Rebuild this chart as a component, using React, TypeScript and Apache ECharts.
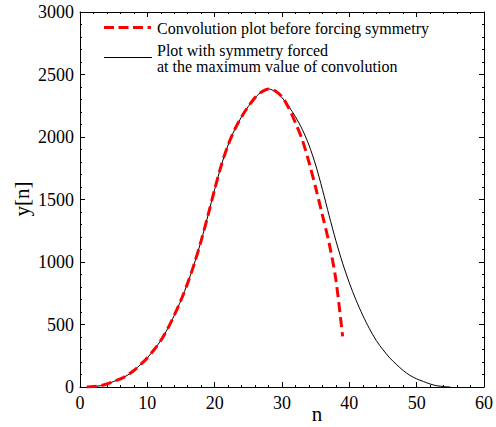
import React, { useEffect, useRef } from "react";
import * as echarts from "echarts";

const redN = [1,2,3,4,5,6,7,8,9,10,11,12,13,14,15,16,17,18,19,20,21,22,23,24,25,26,27,28,29,30,31,32,33,34,35,36,37,38,39];
const redY = [0,4,10,24,44,65,93,132,180,233,298,372,465,573,695,833,991,1171,1371,1581,1776,1936,2062,2162,2245,2315,2362,2385,2368,2322,2232,2113,1980,1800,1595,1375,1150,860,405];

const blackN = [1,2,3,4,5,6,7,8,9,10,11,12,13,14,15,16,17,18,19,20,21,22,23,24,25,26,27,28,29,30,31,32,33,34,35,36,37,38,39,40,41,42,43,44,45,46,47,48,49,50,51,52,53,54,55];
const blackY = [0,4,10,24,44,65,93,132,180,233,298,372,465,573,695,833,991,1171,1371,1581,1776,1936,2062,2162,2245,2315,2362,2385,2362,2315,2245,2162,2062,1936,1776,1581,1371,1171,991,833,695,573,465,372,298,233,180,132,93,65,44,24,10,4,0];

const xTicks = { min: 0, max: 60, interval: 10 };
const yTicks = { min: 0, max: 3000, interval: 500 };

const legendRed = "Convolution plot before forcing symmetry";
const legendBlack1 = "Plot with symmetry forced";
const legendBlack2 = "at the maximum value of convolution";
const xName = "n";
const yName = "y[n]";

const FONT = "Liberation Serif";

export default function App() {
  const ref = useRef<HTMLDivElement>(null);
  useEffect(() => {
    if (!ref.current) return;
    const chart = echarts.init(ref.current, undefined, { renderer: "svg" });
    const axisCommon = {
      axisLine: { show: true, onZero: false, lineStyle: { color: "#000", width: 1 } },
      axisTick: { show: true, inside: true, length: 5, lineStyle: { color: "#000", width: 1 } },
      minorTick: { show: true, splitNumber: 5, length: 2, lineStyle: { color: "#000", width: 1 } },
      splitLine: { show: false },
    };
    const fmt = (v: number) => String(v);
    chart.setOption({
      animation: false,
      backgroundColor: "#fff",
      textStyle: { fontFamily: FONT },
      grid: { left: 80, right: 7, top: 12, bottom: 40, containLabel: false },
      xAxis: [
        {
          type: "value",
          ...xTicks,
          position: "bottom",
          ...axisCommon,
          axisLabel: { color: "#000", fontFamily: FONT, fontSize: 18, margin: 7, formatter: fmt },
        },
        {
          type: "value",
          ...xTicks,
          position: "top",
          ...axisCommon,
          axisLabel: { show: false },
        },
      ],
      yAxis: [
        {
          type: "value",
          ...yTicks,
          position: "left",
          ...axisCommon,
          axisLabel: { color: "#000", fontFamily: FONT, fontSize: 18, margin: 6, formatter: fmt },
        },
        {
          type: "value",
          ...yTicks,
          position: "right",
          ...axisCommon,
          axisLabel: { show: false },
        },
      ],
      series: [
        {
          type: "line",
          name: legendBlack1,
          data: blackN.map((n, i) => [n, blackY[i]]),
          showSymbol: false,
          smooth: 0.3,
          lineStyle: { color: "#000", width: 1 },
          z: 2,
        },
        {
          type: "line",
          name: legendRed,
          data: redN.map((n, i) => [n, redY[i]]),
          showSymbol: false,
          smooth: 0.3,
          lineStyle: { color: "#ff0000", width: 3, type: [10, 5] },
          z: 3,
        },
      ],
      graphic: [
        {
          type: "line",
          shape: { x1: 104, y1: 27.5, x2: 151, y2: 27.5 },
          style: { stroke: "#ff0000", lineWidth: 3, lineDash: [10, 4.5] },
        },
        {
          type: "line",
          shape: { x1: 104, y1: 57.5, x2: 152, y2: 57.5 },
          style: { stroke: "#000", lineWidth: 1 },
        },
        {
          type: "text",
          x: 157,
          y: 28,
          style: { text: legendRed, fontFamily: FONT, fontSize: 16, fill: "#000", textVerticalAlign: "middle" },
        },
        {
          type: "text",
          x: 157,
          y: 50,
          style: { text: legendBlack1, fontFamily: FONT, fontSize: 16, fill: "#000", textVerticalAlign: "middle" },
        },
        {
          type: "text",
          x: 157,
          y: 66.5,
          style: { text: legendBlack2, fontFamily: FONT, fontSize: 16, fill: "#000", textVerticalAlign: "middle" },
        },
        {
          type: "text",
          x: 317,
          y: 414,
          style: { text: xName, fontFamily: FONT, fontSize: 21, fill: "#000", textAlign: "center", textVerticalAlign: "middle" },
        },
        {
          type: "text",
          x: 22,
          y: 199,
          rotation: Math.PI / 2,
          style: { text: yName, fontFamily: FONT, fontSize: 21, fill: "#000", textAlign: "center", textVerticalAlign: "middle" },
        },
      ],
    });
    return () => chart.dispose();
  }, []);
  return (
    <div
      ref={ref}
      style={{ position: "fixed", left: 0, top: 0, width: 496, height: 427, background: "#fff" }}
    />
  );
}
